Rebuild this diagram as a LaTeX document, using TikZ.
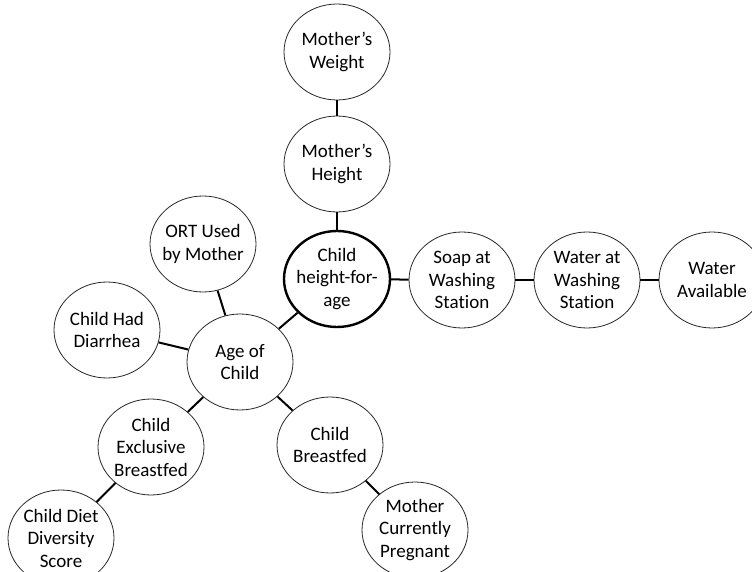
\documentclass[tikz,border=0pt]{standalone}
\usepackage{fontspec}
\setmainfont{Carlito}[Ligatures=NoCommon]
\usetikzlibrary{shapes.geometric}
\begin{document}
\begin{tikzpicture}[x=1pt,y=1pt,
  bub/.style={ellipse, draw=black!85, line width=0.8pt, fill=white, inner sep=-14pt,
    minimum width=106pt, minimum height=96pt, align=center, text=black,
    font=\fontsize{19}{22.5}\selectfont},
  mainbub/.style={bub, line width=2.4pt, draw=black},
  link/.style={line width=2pt, black}]
\useasboundingbox (0,0) rectangle (752,571);
\node[bub] (w) at (337,519) {Mother’s\\Weight};
\node[bub] (h) at (337,407) {Mother’s\\Height};
\node[mainbub] (c) at (337,292) {Child\\height-for-\\age};
\node[bub] (s) at (462,291) {Soap at\\Washing\\Station};
\node[bub] (wa) at (587,291) {Water at\\Washing\\Station};
\node[bub] (av) at (712,291) {Water\\Available};
\node[bub] (ort) at (203,327) {ORT Used\\by Mother};
\node[bub] (dia) at (107,241) {Child Had\\Diarrhea};
\node[bub] (age) at (240,209) {Age of\\Child};
\node[bub] (exc) at (151,124) {Child\\Exclusive\\Breastfed};
\node[bub] (bf) at (330,126) {Child\\Breastfed};
\node[bub] (div) at (61,33) {Child Diet\\Diversity\\Score};
\node[bub] (preg) at (415,41) {Mother\\Currently\\Pregnant};
\draw[link] (w) -- (h);
\draw[link] (h) -- (c);
\draw[link] (c) -- (s);
\draw[link] (s) -- (wa);
\draw[link] (wa) -- (av);
\draw[link] (c) -- (age);
\draw[link] (ort) -- (age);
\draw[link] (dia) -- (age);
\draw[link] (age) -- (exc);
\draw[link] (age) -- (bf);
\draw[link] (exc) -- (div);
\draw[link] (bf) -- (preg);
\end{tikzpicture}
\end{document}
